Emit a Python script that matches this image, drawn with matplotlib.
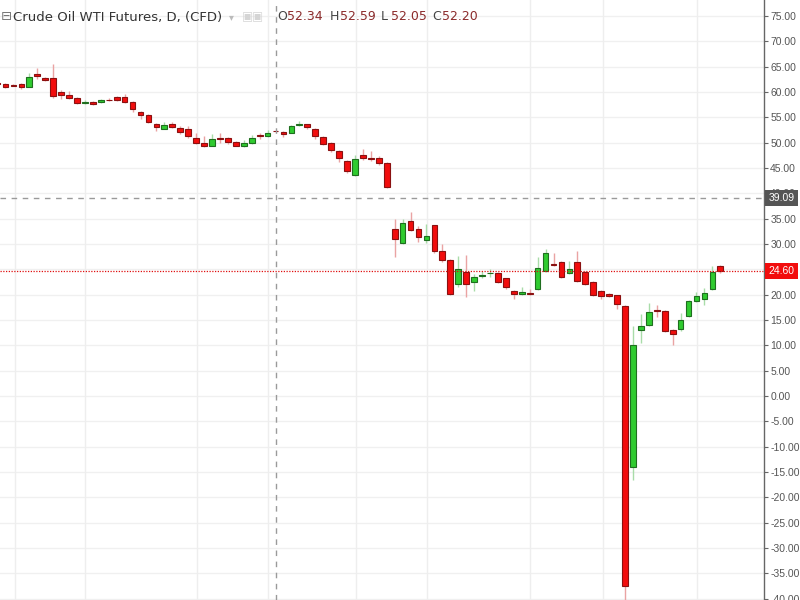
import matplotlib
matplotlib.use("Agg")
import matplotlib.pyplot as plt
import matplotlib.transforms as mtransforms
import numpy as np

# daily candles, index -1 is the partly hidden one at the left edge
opens = [61.7, 61.6, 61.35, 61.6, 61.0, 63.6, 62.7, 62.7, 59.9, 59.5,
         58.9, 57.8, 58.1, 58.0, 58.45, 59.1, 59.1, 58.1, 56.0, 55.5,
         53.6, 52.7, 53.7, 52.9, 52.7, 50.9, 49.9, 49.4, 51.0, 51.0,
         50.1, 49.4, 49.9, 51.6, 51.3, 52.34, 52.1, 52.0, 53.4, 53.6,
         52.6, 51.2, 50.0, 48.4, 46.4, 43.6, 47.6, 46.9, 47.0, 46.0,
         32.9, 30.1, 34.5, 33.0, 30.7, 33.7, 28.7, 26.8, 22.1, 24.5,
         22.5, 23.75, 24.2, 24.3, 23.2, 20.8, 20.1, 20.35, 21.1, 24.7,
         26.1, 26.4, 24.2, 26.4, 24.5, 22.4, 20.7, 20.1, 19.9, 17.8,
         -14.1, 13.0, 14.1, 16.9, 16.8, 13.0, 13.2, 15.7, 18.8, 19.1,
         21.1, 25.7]
highs = [61.9, 61.8, 61.5, 61.8, 63.8, 64.7, 62.9, 65.5, 60.3, 60.1,
         59.1, 58.5, 58.3, 58.6, 58.8, 59.3, 59.6, 58.2, 56.2, 55.6,
         53.8, 54.0, 54.0, 53.3, 53.2, 51.9, 51.3, 51.7, 52.0, 51.2,
         50.3, 50.6, 51.6, 51.9, 52.5, 52.59, 52.2, 53.4, 54.3, 53.7,
         52.9, 51.3, 50.2, 48.5, 46.6, 47.5, 48.8, 48.3, 47.3, 46.1,
         34.9, 34.9, 36.3, 33.5, 33.9, 33.8, 30.0, 27.0, 27.6, 27.8,
         24.0, 24.6, 25.0, 24.5, 23.3, 21.0, 21.6, 21.1, 27.4, 29.1,
         28.3, 26.6, 26.6, 28.6, 24.7, 22.6, 20.9, 20.3, 20.0, 17.9,
         13.8, 16.2, 18.4, 18.0, 17.0, 13.2, 16.4, 19.0, 20.6, 21.3,
         25.7, 25.9]
lows = [61.3, 60.7, 61.1, 60.5, 60.9, 62.5, 62.2, 58.9, 58.6, 58.6,
        57.7, 57.6, 57.4, 57.8, 58.2, 58.3, 57.9, 56.0, 54.7, 53.9,
        52.2, 52.6, 52.8, 51.8, 51.0, 49.7, 49.2, 49.3, 50.0, 49.8,
        49.3, 49.2, 49.7, 50.8, 51.2, 52.05, 51.2, 51.9, 53.2, 52.6,
        50.8, 49.5, 48.2, 46.1, 44.0, 43.5, 46.5, 46.4, 45.6, 41.0,
        27.5, 30.0, 32.5, 30.4, 30.2, 28.3, 26.5, 20.0, 21.5, 19.6,
        20.8, 23.3, 23.5, 22.3, 21.1, 19.2, 20.0, 20.0, 21.0, 24.5,
        25.7, 23.3, 24.0, 22.4, 22.0, 19.8, 19.1, 19.5, 17.2, -40.3,
        -16.6, 10.5, 13.9, 15.6, 12.6, 10.1, 12.8, 15.6, 18.6, 18.0,
        21.0, 24.3]
closes = [61.5, 60.9, 61.2, 60.9, 62.9, 63.1, 62.4, 59.2, 59.4, 58.9,
          57.8, 58.1, 57.6, 58.4, 58.35, 58.5, 58.1, 56.6, 55.4, 54.1,
          53.0, 53.4, 53.1, 52.1, 51.4, 50.0, 49.4, 50.7, 50.8, 50.1,
          49.4, 49.9, 51.0, 51.3, 51.9, 52.20, 51.8, 53.3, 53.6, 53.1,
          51.3, 49.7, 48.5, 46.9, 44.5, 46.7, 47.0, 46.7, 45.9, 41.2,
          31.0, 34.2, 32.7, 31.4, 31.6, 28.6, 26.8, 20.2, 25.0, 22.2,
          23.4, 23.85, 24.35, 22.5, 21.5, 20.1, 20.5, 20.2, 25.3, 28.3,
          25.9, 23.5, 25.1, 22.6, 22.2, 20.0, 19.7, 19.7, 18.2, -37.5,
          10.1, 13.8, 16.6, 16.7, 12.8, 12.2, 15.0, 18.7, 19.7, 20.4,
          24.5, 24.60]

cross_price = 39.09
last_price = 24.60
cross_bar = 34
date_lines = [1.15, 10.0, 24.15, 33.1, 44.1, 53.1, 66.1, 75.2, 87.1]
price_ticks = np.arange(-40, 80, 5)

UP_BODY, UP_EDGE, UP_WICK = "#2fcb2f", "#1f6e1f", "#a9dca9"
DN_BODY, DN_EDGE, DN_WICK = "#f20d0d", "#8a1111", "#eaa3a3"
AXIS_FONT = ["Liberation Sans", "DejaVu Sans"]

o = np.array(opens)
h = np.array(highs)
l = np.array(lows)
c = np.array(closes)
x = np.arange(len(o)) - 1
up = c >= o

fig = plt.figure(figsize=(8, 6), dpi=100)
ax = fig.add_axes([0, 0, 0.955, 1])
ax.set_facecolor("white")

# grid
for p in price_ticks:
    ax.axhline(p, color="#f0f0f0", lw=1, zorder=0)
for d in date_lines:
    ax.axvline(d, color="#eeeeee", lw=1, zorder=0)

# wicks then bodies
ax.vlines(x[up], l[up], h[up], color=UP_WICK, lw=1, zorder=2)
ax.vlines(x[~up], l[~up], h[~up], color=DN_WICK, lw=1, zorder=2)
ax.bar(x[up], c[up] - o[up], bottom=o[up], width=0.72,
       color=UP_BODY, edgecolor=UP_EDGE, linewidth=0.8, zorder=3)
ax.bar(x[~up], o[~up] - c[~up], bottom=c[~up], width=0.72,
       color=DN_BODY, edgecolor=DN_EDGE, linewidth=0.8, zorder=3)

# crosshair and last price line
ax.axhline(cross_price, color="#9a9a9a", lw=1, ls=(0, (4, 4)), zorder=4)
ax.axvline(cross_bar, color="#9a9a9a", lw=1, ls=(0, (4, 4)), zorder=4)
ax.axhline(last_price, color="#e01010", lw=0.9, ls=(0, (1, 1.2)), zorder=4)

ax.set_xlim(-0.69, 95.5)
ax.set_ylim(-40.26, 78.15)
ax.set_xticks([])

ax.yaxis.tick_right()
ax.set_yticks(price_ticks)
ax.set_yticklabels(["%.2f" % v for v in price_ticks], family=AXIS_FONT)
ax.tick_params(axis="y", direction="out", length=3, width=0.8,
               color="#666666", labelcolor="#555555", labelsize=7.5, pad=1.5)
for s in ["left", "top", "bottom"]:
    ax.spines[s].set_visible(False)
ax.spines["right"].set_color("#666666")
ax.spines["right"].set_linewidth(1)

trans = mtransforms.blended_transform_factory(ax.transAxes, ax.transData)
ax.text(1.006, cross_price, "%.2f" % cross_price, transform=trans, color="white",
        fontsize=7.5, family=AXIS_FONT, va="center", ha="left", clip_on=False,
        zorder=10, bbox=dict(boxstyle="square,pad=0.3", fc="#555555", ec="none"))
ax.text(1.006, last_price, "%.2f" % last_price, transform=trans, color="white",
        fontsize=7.5, family=AXIS_FONT, va="center", ha="left", clip_on=False,
        zorder=10, bbox=dict(boxstyle="square,pad=0.3", fc="#f20d0d", ec="none"))

# header
ty = 1 - 17 / 600
fig.text(1 / 800, ty, "\u229f", fontsize=9.5, color="#777777", va="center")
fig.text(13 / 800, ty, "Crude Oil WTI Futures, D, (CFD)", fontsize=9.5,
         color="#333333", va="center")
fig.text(229 / 800, ty, "\u25be", fontsize=7, color="#bbbbbb", va="center")
fig.text(242 / 800, ty, "\u25a3", fontsize=8.5, color="#d5d5d5", va="center")
fig.text(252 / 800, ty, "\u25a3", fontsize=8.5, color="#d5d5d5", va="center")
ohlc = [("O", opens[cross_bar + 1], 277), ("H", highs[cross_bar + 1], 330),
        ("L", lows[cross_bar + 1], 381), ("C", closes[cross_bar + 1], 432)]
for lab, val, px in ohlc:
    fig.text(px / 800, ty, lab, fontsize=9, color="#444444", va="center")
    fig.text((px + 10) / 800, ty, "%.2f" % val, fontsize=9, color="#8b2b2b",
             va="center")

fig.savefig("out.png", dpi=100)
